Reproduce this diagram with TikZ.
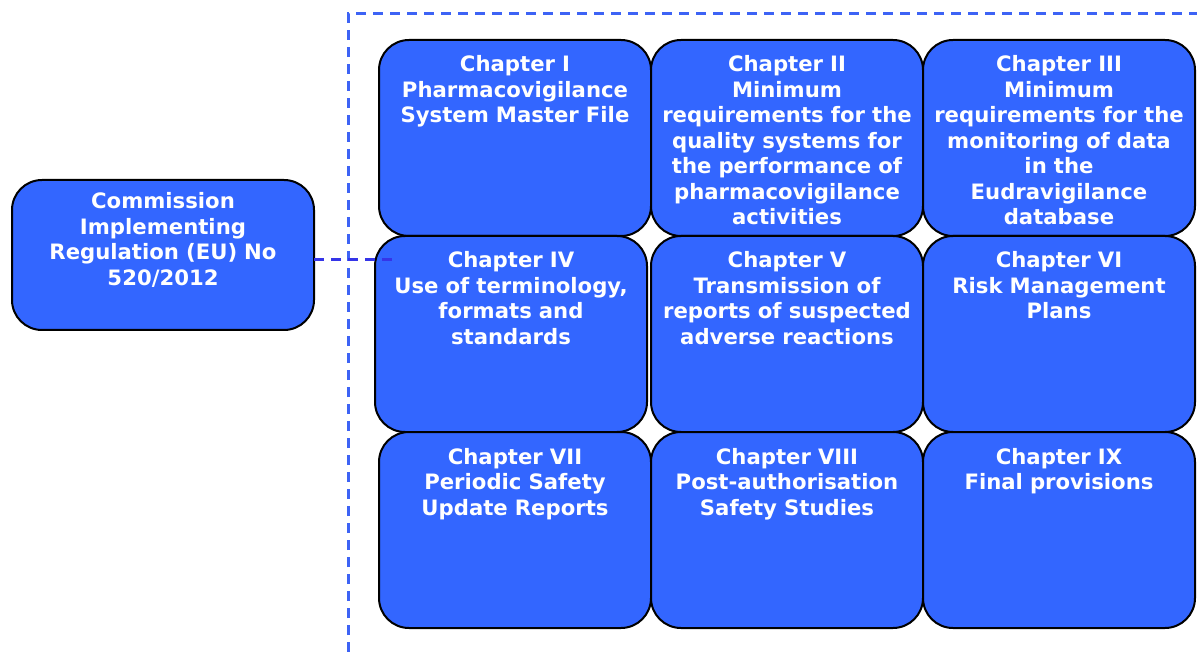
\documentclass[tikz,border=0pt]{standalone}
\usepackage{fontspec}
\setmainfont{DejaVu Sans}
\usetikzlibrary{positioning}
\definecolor{boxblue}{HTML}{3366FF}
\definecolor{frameblue}{HTML}{3D63F5}
\definecolor{linkblue}{HTML}{3535E8}
\tikzset{chap node/.style={rectangle,rounded corners=30pt,fill=boxblue,draw=black,line width=2pt,
            minimum width=272pt,minimum height=196pt,inner sep=0pt,outer sep=0pt,
            text width=264pt,align=center,text=white,font=\fontsize{21.2}{25.5}\selectfont\bfseries,
            text height=32pt,text depth=164pt},
         reg node/.style={chap node,minimum width=302pt,minimum height=150pt,
            text width=294pt,text height=29pt,text depth=121pt},
         dash line/.style={line width=3pt,dash pattern=on 10pt off 7pt},
            }

\begin{document}
\begin{tikzpicture}[x=1pt,y=-1pt]
    \useasboundingbox (0,0) rectangle (1197,652);
    \draw[dash line,frameblue] (348,652) -- (348,14) -- (1197,14);

    \node[reg node,anchor=north west] (reg) at (12,180) {Commission\\ Implementing\\ Regulation (EU) No\\ 520/2012};

    \node[chap node,anchor=north west] (c1) at (379,40) {Chapter I\\ Pharmacovigilance\\ System Master File};
    \node[chap node] (c2) [right = 0pt of c1] {Chapter II\\ Minimum\\ requirements for the\\ quality systems for\\ the performance of\\ pharmacovigilance\\ activities};
    \node[chap node] (c3) [right = 0pt of c2] {Chapter III\\ Minimum\\ requirements for the\\ monitoring of data\\ in the\\ Eudravigilance\\ database};
    \node[chap node] (c4) [below = 0pt of c1, xshift=-4pt] {Chapter IV\\ Use of terminology,\\ formats and\\ standards};
    \node[chap node] (c5) [below = 0pt of c2] {Chapter V\\ Transmission of\\ reports of suspected\\ adverse reactions};
    \node[chap node] (c6) [below = 0pt of c3] {Chapter VI\\ Risk Management\\ Plans};
    \node[chap node] (c7) [below = 0pt of c4, xshift=4pt] {Chapter VII\\ Periodic Safety\\ Update Reports};
    \node[chap node] (c8) [below = 0pt of c5] {Chapter VIII\\ Post-authorisation\\ Safety Studies};
    \node[chap node] (c9) [below = 0pt of c6] {Chapter IX\\ Final provisions};

    \coordinate (jn) at (395,260);
    \draw[dash line,linkblue] (reg.east |- jn) -- (jn);
\end{tikzpicture}
\end{document}
